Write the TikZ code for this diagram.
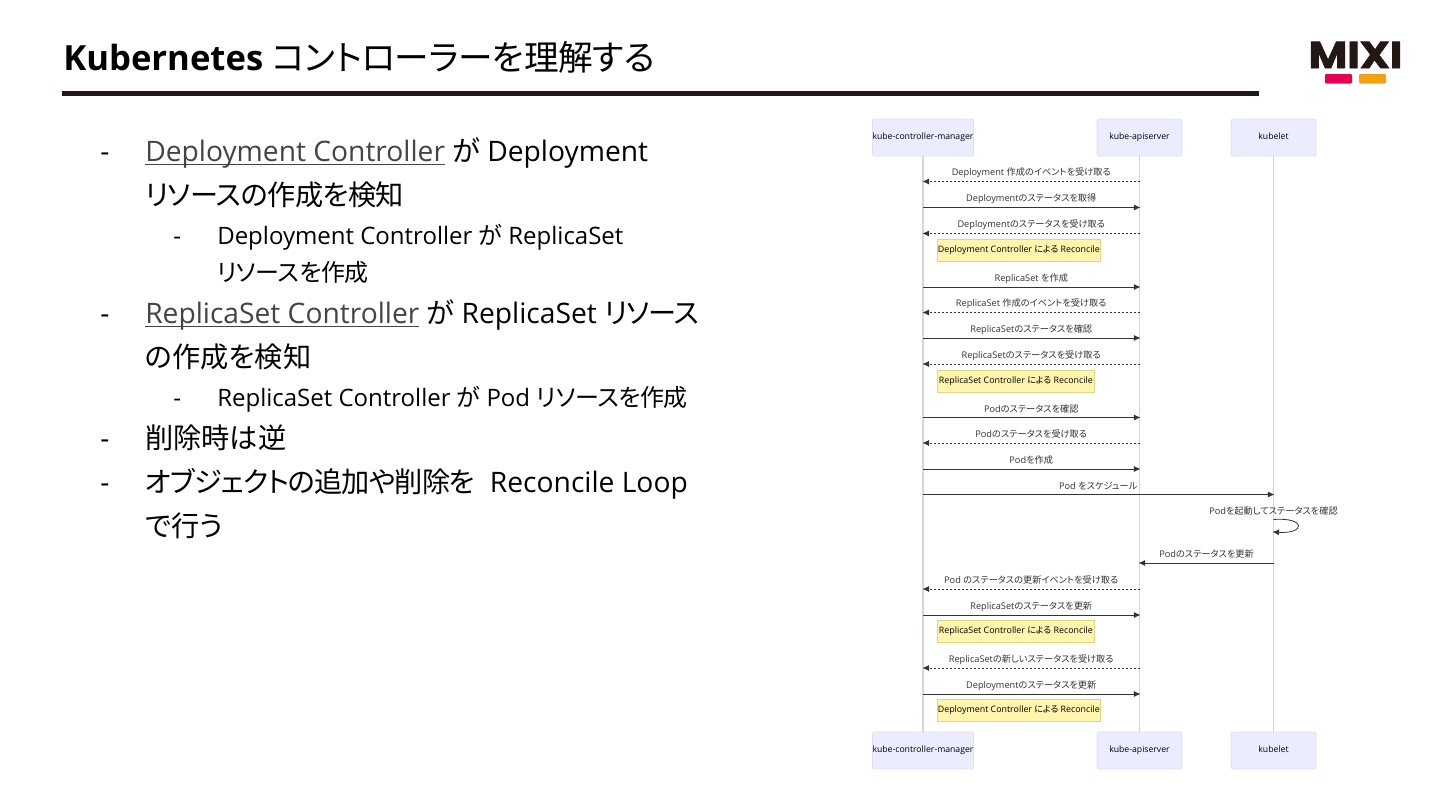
\documentclass[tikz,border=0pt]{standalone}
\usepackage{fontspec}
\usetikzlibrary{arrows.meta}
\setmainfont{Open Sans}
\newfontfamily\jpf[RawFeature=+palt]{Noto Sans CJK JP}
\newfontfamily\logof[BoldFeatures={FakeBold=1.6}]{Poppins}
\newcommand{\J}[1]{{\jpf #1}}
\newcommand{\Js}[2]{{\jpf\addfontfeature{LetterSpace=#1}#2}}
\newcommand{\lnk}[1]{\setbox0\hbox{#1}\rlap{\raisebox{-3.2pt}{\rule{\wd0}{1.2pt}}}\box0 }
\definecolor{inkc}{HTML}{231815}
\definecolor{seqtxt}{HTML}{333333}
\definecolor{actfill}{HTML}{ECECFF}
\definecolor{actline}{HTML}{E0E0F2}
\definecolor{lifec}{HTML}{D4D4E4}
\definecolor{notefill}{HTML}{FFF5AD}
\definecolor{noteline}{HTML}{DDD68A}
\definecolor{linkc}{HTML}{444444}
\tikzset{
  x=0.75pt,y=-0.75pt,
  titletxt/.style={anchor=base west,inner sep=0pt,font=\fontsize{26}{30}\selectfont,text=black},
  bodytxt/.style={anchor=base west,inner sep=0pt,font=\fontsize{21.15}{26}\selectfont,text=black},
  subtxt/.style={anchor=base west,inner sep=0pt,font=\fontsize{18}{22}\selectfont,text=black},
  actor/.style={draw=actline,fill=actfill,line width=0.5pt,rounded corners=1pt,inner sep=0pt,minimum height=27.75pt,text height=5pt,text depth=1.3pt,font=\fontsize{6.5}{8}\selectfont,text=black},
  lifeline/.style={draw=lifec,line width=0.8pt},
  msgtxt/.style={inner sep=0pt,font=\fontsize{6.9}{8}\selectfont,text=seqtxt},
  solidmsg/.style={draw=seqtxt,line width=0.75pt,shorten >=-0.8pt,-{Latex[length=5pt,width=4.5pt]}},
  dashmsg/.style={draw=seqtxt,line width=0.6pt,dash pattern=on 1.5pt off 1.5pt,shorten >=-0.5pt,-{Latex[length=5pt,width=4.5pt]}},
  notebox/.style={draw=noteline,fill=notefill,line width=0.5pt,inner sep=0pt,minimum height=16.5pt,font=\fontsize{6.65}{8}\selectfont,text=black},
}
% name, from actor, to actor, y, style, label
\newcommand{\msg}[6]{%
  \coordinate (#1s) at (#2.south |- 0,#4);
  \coordinate (#1e) at (#3.south |- 0,#4);
  \draw[#5] (#1s) -- (#1e);
  \path (#1s) -- node[msgtxt,yshift=6.4pt] (#1t) {#6} (#1e);
}
\newcommand{\notem}[4]{% name, y centre, width, label
  \node[notebox,anchor=west,minimum width=#3*0.75pt] (#1) at (937,#2) {#4};
}
\begin{document}
\begin{tikzpicture}
\useasboundingbox (0,0) rectangle (1440,810);
\fill[white] (0,0) rectangle (1440,810);
% title
\node[titletxt] (title) at (63,70) {\textbf{Kubernetes} \Js{-1}{コントローラーを理解する}};
\coordinate (ruleL) at (62,93.5);
\coordinate (ruleR) at (1259,93.5);
\draw[inkc,line width=4pt] (ruleL) -- (ruleR);
% logo
\node[inner sep=0pt,anchor=base,text=inkc,font=\logof\bfseries\fontsize{28}{30}\selectfont] (logo) at (1355.5,68) {\scalebox{1.13}[1]{MIXI}};
\fill[rounded corners=0.8pt,fill={rgb,255:red,230;green,0;blue,80}] (1325,74) rectangle (1352,83.5);
\fill[rounded corners=0.8pt,fill={rgb,255:red,245;green,160;blue,16}] (1359,74) rectangle (1386,83.5);
% body
\node[bodytxt] (b1d) at (100,161) {-};
\node[bodytxt] (b1) at (145,161) {\textcolor{linkc}{\lnk{Deployment Controller}} \J{が} Deployment};
\node[bodytxt] (b2) at (145,205) {\Js{-2.1}{リソースの作成を検知}};
\node[subtxt] (s1d) at (173,244) {-};
\node[subtxt] (s1) at (217,244) {Deployment Controller \J{が} ReplicaSet};
\node[subtxt] (s2) at (217,281) {\Js{-1.5}{リソースを作成}};
\node[bodytxt] (b3d) at (100,323) {-};
\node[bodytxt] (b3) at (145,323) {\textcolor{linkc}{\lnk{ReplicaSet Controller}} \J{が} ReplicaSet \Js{-3}{リソース}};
\node[bodytxt] (b4) at (145,367) {\J{の作成を検知}};
\node[subtxt] (s3d) at (173,406) {-};
\node[subtxt] (s3) at (217,406) {ReplicaSet Controller \J{が} Pod \Js{-1.5}{リソースを作成}};
\node[bodytxt] (b5d) at (100,448) {-};
\node[bodytxt] (b5) at (145,448) {\J{削除時は逆}};
\node[bodytxt] (b6d) at (100,492) {-};
\node[bodytxt] (b6) at (145,492) {\Js{-3.2}{オブジェクトの追加や削除を}\ \ Reconcile Loop};
\node[bodytxt] (b7) at (145,536) {\J{で行う}};
% actors
\node[actor,minimum width=75pt] (kcm) at (923,137.5) {kube-controller-manager};
\node[actor,minimum width=63.75pt] (api) at (1139.5,137.5) {kube-apiserver};
\node[actor,minimum width=63.75pt] (kub) at (1273.5,137.5) {kubelet};
\node[actor,minimum width=75pt] (kcmb) at (923,750.5) {kube-controller-manager};
\node[actor,minimum width=63.75pt] (apib) at (1139.5,750.5) {kube-apiserver};
\node[actor,minimum width=63.75pt] (kubb) at (1273.5,750.5) {kubelet};
\draw[lifeline] (kcm) -- (kcmb);
\draw[lifeline] (api) -- (apib);
\draw[lifeline] (kub) -- (kubb);
% messages
\msg{m1}{api}{kcm}{181.5}{dashmsg}{Deployment \J{作成のイベントを受け取る}}
\msg{m2}{kcm}{api}{207.5}{solidmsg}{Deployment\J{のステータスを取得}}
\msg{m3}{api}{kcm}{233.5}{dashmsg}{Deployment\J{のステータスを受け取る}}
\notem{n1}{250}{163}{Deployment Controller \J{による} Reconcile}
\msg{m4}{kcm}{api}{287}{solidmsg}{ReplicaSet \J{を作成}}
\msg{m5}{api}{kcm}{312.5}{dashmsg}{ReplicaSet \J{作成のイベントを受け取る}}
\msg{m6}{kcm}{api}{338}{solidmsg}{ReplicaSet\J{のステータスを確認}}
\msg{m7}{api}{kcm}{364}{dashmsg}{ReplicaSet\J{のステータスを受け取る}}
\notem{n2}{381}{157}{ReplicaSet Controller \J{による} Reconcile}
\msg{m8}{kcm}{api}{417.5}{solidmsg}{Pod\J{のステータスを確認}}
\msg{m9}{api}{kcm}{443}{dashmsg}{Pod\J{のステータスを受け取る}}
\msg{m10}{kcm}{api}{469}{solidmsg}{Pod\J{を作成}}
\msg{m11}{kcm}{kub}{494.5}{solidmsg}{Pod \J{をスケジュール}}
\node[msgtxt] (selft) at (1273.5,511) {Pod\J{を起動してステータスを確認}};
\coordinate (selfa) at (kub.south |- 0,519.5);
\coordinate (selfb) at (kub.south |- 0,532);
\draw[solidmsg,line width=0.6pt] (selfa) .. controls (1306,517) and (1306,534) .. (selfb);
\msg{m12}{kub}{api}{563}{solidmsg}{Pod\J{のステータスを更新}}
\msg{m13}{api}{kcm}{589}{dashmsg}{Pod \J{のステータスの更新イベントを受け取る}}
\msg{m14}{kcm}{api}{615}{solidmsg}{ReplicaSet\J{のステータスを更新}}
\notem{n3}{631.5}{157}{ReplicaSet Controller \J{による} Reconcile}
\msg{m15}{api}{kcm}{668}{dashmsg}{ReplicaSet\J{の新しいステータスを受け取る}}
\msg{m16}{kcm}{api}{694}{solidmsg}{Deployment\J{のステータスを更新}}
\notem{n4}{710.5}{163}{Deployment Controller \J{による} Reconcile}
\end{tikzpicture}
\end{document}
